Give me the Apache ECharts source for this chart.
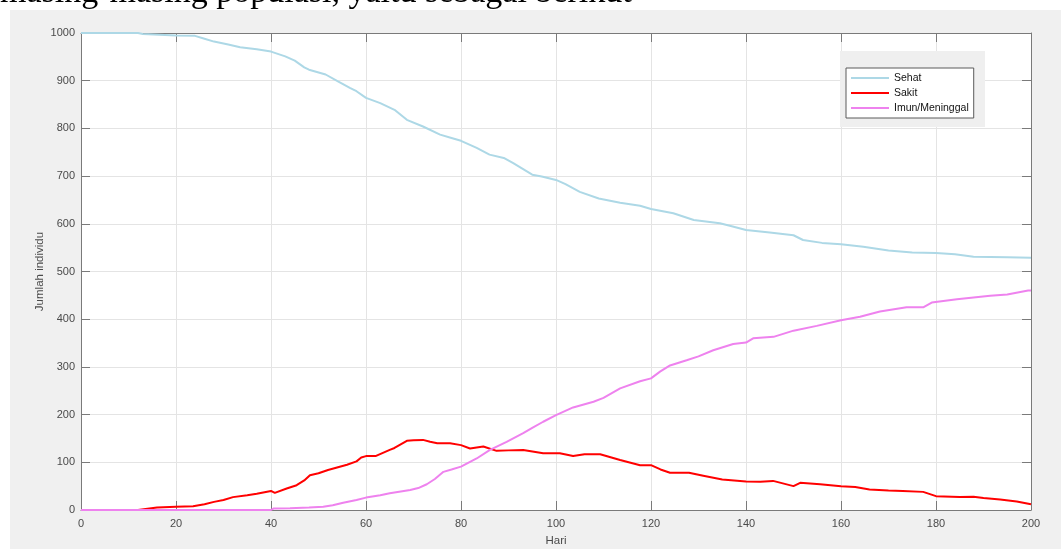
<!DOCTYPE html>
<html>
<head>
<meta charset="utf-8">
<script src="https://cdn.jsdelivr.net/npm/echarts@6/dist/echarts.min.js"></script>
<style>
  html, body { margin: 0; padding: 0; background: #ffffff; }
  #chart { width: 1061px; height: 549px; }
</style>
</head>
<body>
<div id="chart"></div>
<script>
// Simulated epidemic: number of healthy, sick and immune/dead individuals per day
const seriesNames = ['Sehat', 'Sakit', 'Imun/Meninggal'];
const xTicks = { min: 0, max: 200, interval: 20 };
const yTicks = { min: 0, max: 1000, interval: 100 };

// [hari, jumlah individu]
const sehat = [
  [0,1000],[12,1000],[13,998],[20,995],[24,994],[26,988],[28,982],[31,976],[33.5,970],
  [37,966],[40,961],[43,951],[45,942],[47,928],[48,923],[51.5,913],[54,899],[56.6,885],
  [58,878],[60,864],[63,853],[66,839],[68.6,818],[72,804],[75.6,787],[78,780],[80,774],
  [83.3,759],[86,745],[89,738],[91,727],[95,703],[97,699],[100,692],[102,683],[105,667],
  [109,653],[113.5,644],[117.7,638],[120,631],[124.7,622],[129,608],[134.5,601],[137,595],
  [140,587],[145,582],[150,576],[152,566],[156,560],[160,557],[164.7,552],[170,544],
  [175,540],[180,539],[184,536],[187.9,531],[195,530],[200,529]
];
const sakit = [
  [0,0],[12,0],[12.4,4],[16,5],[20,7],[23.6,8],[26,12],[28,17],[30,21],[32,27],[35,31],
  [37,34],[40,40],[40.8,36],[43.3,45],[45.4,52],[47,62],[48.2,73],[50,77],[52,84],[56,95],
  [58,102],[59,110],[60,113],[62,113],[65,126],[66,130],[68.6,145],[70,146],[72,147],
  [73.5,143],[75,140],[77.7,140],[80,136],[81.9,129],[84.7,133],[87.5,124],[90,125],
  [93.1,126],[97.3,119],[100.8,119],[103.6,113],[106,117],[109.3,117],[113.5,105],
  [117.7,94],[120,94],[122,85],[124,78],[128,78],[131,72],[135,64],[140,60],[143,59],
  [145.7,61],[150,50],[151.4,57],[155.6,54],[160,50],[163,48],[166,43],[170,41],[173,40],
  [177.3,38],[180,29],[185,27],[187.9,28],[190,25],[193.5,22],[197,18],[200,12]
];
const imun = [
  [0,0],[40,0],[40.5,3],[44,3.5],[48,5],[51,7],[53,10],[55.2,15],[58,21],[60,26],[63,31],
  [65,35],[69.3,42],[71,46],[72.8,54],[74.5,65],[76.3,80],[78,85],[80,91],[83.3,108],
  [86.1,126],[89.6,143],[93.1,161],[95,172],[97.3,185],[100,199],[103.6,215],[107.9,227],
  [110,235],[113.5,255],[117.7,270],[120,276],[121.9,290],[124,303],[127.5,314],[130,322],
  [133.1,335],[137.3,348],[140,351],[141.5,360],[145.8,363],[150,376],[154.9,386],
  [160,398],[164,405],[168.2,416],[173.8,425],[177.3,425],[179.1,435],[184.4,442],
  [191.4,449],[195,452],[199.4,460],[200,460]
];
const seriesData = [sehat, sakit, imun];
const seriesColors = ['#add8e6', '#ff0000', '#ee82ee'];

const FONT = '"Liberation Sans", Arial, sans-serif';
const axisGray = '#7a7a7a';
const labelColor = '#4a4a4a';

function frameAxis(base, extra) {
  return Object.assign({
    type: 'value',
    min: base.min, max: base.max, interval: base.interval,
    axisLine: { show: true, onZero: false, lineStyle: { color: axisGray, width: 1 } },
    axisTick: { show: true, inside: true, length: 9, lineStyle: { color: axisGray, width: 1 } },
    splitLine: { show: false },
    axisLabel: { show: false }
  }, extra);
}

const chart = echarts.init(document.getElementById('chart'), null, { renderer: 'canvas' });

chart.setOption({
  animation: false,
  backgroundColor: '#ffffff',
  textStyle: { fontFamily: FONT },
  graphic: [
    {
      type: 'rect', z: -20, silent: true,
      shape: { x: 10, y: 10, width: 1051, height: 539 },
      style: { fill: '#f0f0f0' }
    },
    {
      type: 'text', z: -30, silent: true,
      x: 0, y: 10.5,
      style: {
        text: 'masing-masing populasi, yaitu sebagai berikut',
        font: '34px "Liberation Serif", "DejaVu Serif", serif',
        fill: '#000000',
        verticalAlign: 'bottom'
      }
    },
    {
      type: 'rect', z: 3, silent: true,
      shape: { x: 840, y: 51, width: 145, height: 76 },
      style: { fill: '#efefef' }
    }
  ],
  grid: {
    left: 81, right: 30, top: 33, bottom: 39,
    outerBoundsMode: 'none',
    containLabel: false,
    show: true, backgroundColor: '#ffffff', borderWidth: 0
  },
  legend: {
    show: true,
    data: seriesNames,
    orient: 'vertical',
    left: 846, top: 68,
    z: 5,
    icon: 'rect',
    itemWidth: 38, itemHeight: 2, itemGap: 3,
    padding: [4, 5, 4, 5],
    backgroundColor: '#ffffff',
    borderColor: '#5a5a5a', borderWidth: 1, borderRadius: 0,
    textStyle: { fontFamily: FONT, fontSize: 10.5, color: '#111111', lineHeight: 12 },
    selectedMode: false
  },
  xAxis: [
    frameAxis(xTicks, {
      position: 'bottom',
      name: 'Hari', nameLocation: 'middle', nameGap: 25,
      nameMoveOverlap: false,
      nameTextStyle: { fontFamily: FONT, fontSize: 11.5, color: labelColor },
      axisLabel: { show: true, margin: 8, fontFamily: FONT, fontSize: 11, color: labelColor },
      splitLine: { show: true, lineStyle: { color: '#e4e4e4', width: 1 } }
    }),
    frameAxis(xTicks, { position: 'top' })
  ],
  yAxis: [
    frameAxis(yTicks, {
      position: 'left',
      name: 'Jumlah individu', nameLocation: 'middle', nameGap: 35,
      nameMoveOverlap: false,
      nameTextStyle: { fontFamily: FONT, fontSize: 11.5, color: labelColor },
      axisLabel: {
        show: true, margin: 6, fontFamily: FONT, fontSize: 11, color: labelColor,
        formatter: v => String(v)
      },
      splitLine: { show: true, lineStyle: { color: '#e4e4e4', width: 1 } }
    }),
    frameAxis(yTicks, { position: 'right' })
  ],
  series: seriesNames.map((name, i) => ({
    name: name,
    type: 'line',
    xAxisIndex: 0, yAxisIndex: 0,
    data: seriesData[i],
    symbol: 'none',
    showSymbol: false,
    smooth: false,
    z: 2 + i,
    lineStyle: { color: seriesColors[i], width: 2 },
    itemStyle: { color: seriesColors[i] }
  }))
});
</script>
</body>
</html>
